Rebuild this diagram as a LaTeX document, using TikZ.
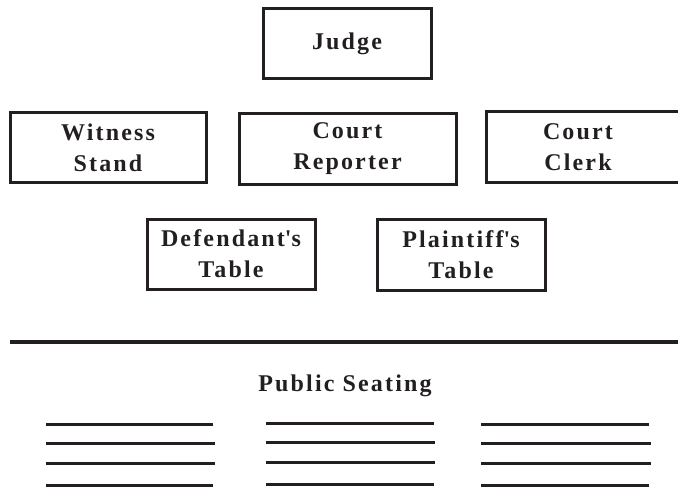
\documentclass[tikz,border=0pt]{standalone}
\usepackage{fontspec}
\setmainfont{Liberation Serif}[LetterSpace=9]
\definecolor{ink}{RGB}{35,31,32}
\begin{document}
\begin{tikzpicture}[x=1pt,y=-1pt,
  box/.style={draw=ink, line width=3pt, inner sep=0pt},
  lbl/.style={text=ink, font=\bfseries\fontsize{24}{31}\selectfont, align=center, inner sep=0pt},
  seat/.style={draw=ink, line width=3pt}]
\useasboundingbox (0,0) rectangle (678,487);
\clip (0,0) rectangle (678,487);
% boxes
\node[box, minimum width=168pt, minimum height=70pt] (judge) at (347,44) {};
\node[lbl] (judget) at (347,44) {Judge};
\node[box, minimum width=196pt, minimum height=69pt] (witness) at (108,147.5) {};
\node[lbl] (witnesst) at (108,147.5) {Witness\\Stand};
\node[box, minimum width=217pt, minimum height=70pt] (reporter) at (347.5,149) {};
\node[lbl] (reportert) at (347.5,149) {Court\\Reporter};
\node[box, minimum width=200pt, minimum height=70pt] (clerk) at (586,147) {};
\node[lbl] (clerkt) at (578,147) {Court\\Clerk};
\node[box, minimum width=168pt, minimum height=70pt] (defendant) at (231,254) {};
\node[lbl] (defendantt) at (231,254) {Defendant\textquotesingle s\\Table};
\node[box, minimum width=168pt, minimum height=71pt] (plaintiff) at (461,254.5) {};
\node[lbl] (plaintifft) at (461,254.5) {Plaintiff\textquotesingle s\\Table};
% separator
\coordinate (sepL) at (10,342);
\coordinate (sepR) at (690,342);
\draw[seat, line width=3.2pt] (sepL) -- (sepR);
\node[lbl, anchor=base] (public) at (345,391) {Public Seating};
% seating rows
\draw[seat] (46,424) -- (213,424);
\draw[seat] (46,443.5) -- (215,443.5);
\draw[seat] (46,463) -- (215,463);
\draw[seat] (46,485) -- (213,485);
\draw[seat] (266,423) -- (434,423);
\draw[seat] (266,442) -- (435,442);
\draw[seat] (266,462) -- (435,462);
\draw[seat] (266,484) -- (434,484);
\draw[seat] (481,424) -- (649,424);
\draw[seat] (481,443.5) -- (651,443.5);
\draw[seat] (481,463) -- (651,463);
\draw[seat] (481,485) -- (649,485);
\end{tikzpicture}
\end{document}
